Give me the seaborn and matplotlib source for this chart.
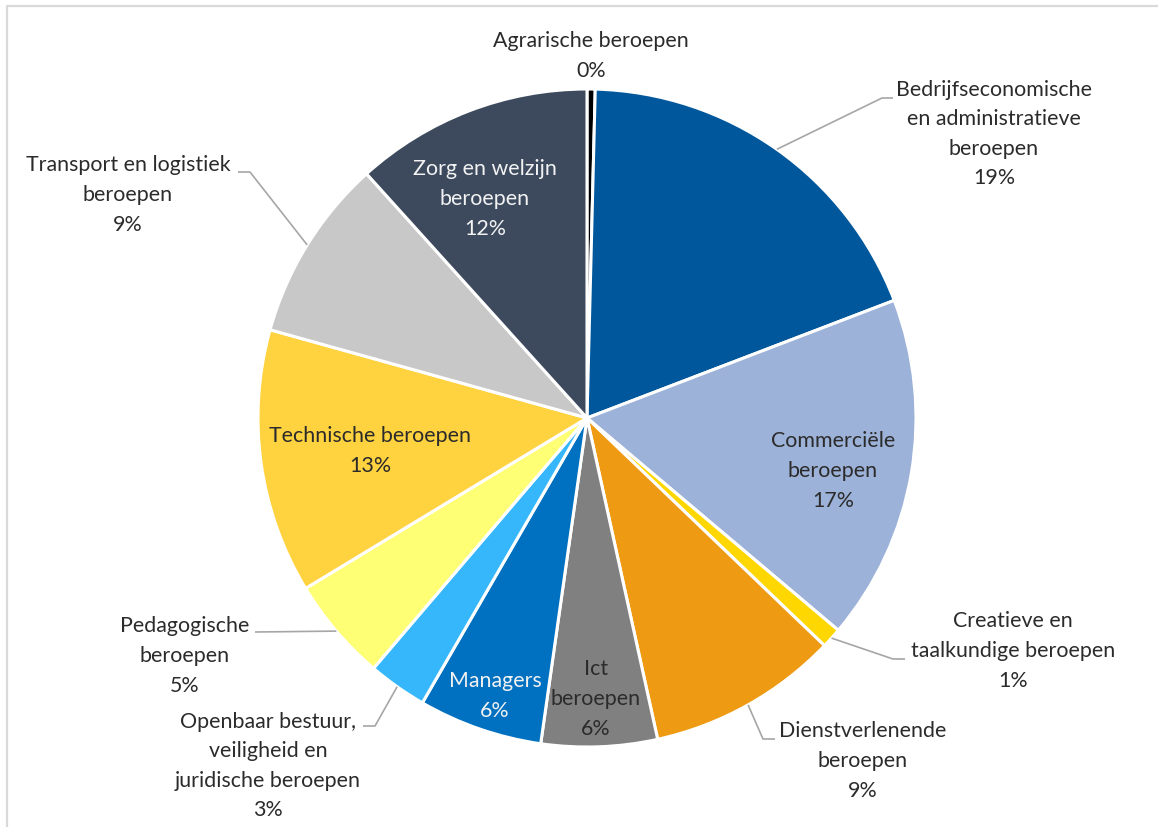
import matplotlib
matplotlib.use("Agg")
import matplotlib.pyplot as plt
import seaborn as sns
import numpy as np

# Share of vacancies per occupational class (percent)
categories = [
    "Agrarische beroepen",
    "Bedrijfseconomische en administratieve beroepen",
    "Commerciële beroepen",
    "Creatieve en taalkundige beroepen",
    "Dienstverlenende beroepen",
    "Ict beroepen",
    "Managers",
    "Openbaar bestuur, veiligheid en juridische beroepen",
    "Pedagogische beroepen",
    "Technische beroepen",
    "Transport en logistiek beroepen",
    "Zorg en welzijn beroepen",
]
shares = [0.4, 18.8, 17.0, 1.0, 9.4, 5.7, 6.1, 2.9, 5.1, 13.0, 9.0, 11.7]

# Label text as it is wrapped on the chart
label_lines = [
    "Agrarische beroepen",
    "Bedrijfseconomische\nen administratieve\nberoepen",
    "Commerciële\nberoepen",
    "Creatieve en\ntaalkundige beroepen",
    "Dienstverlenende\nberoepen",
    "Ict\nberoepen",
    "Managers",
    "Openbaar bestuur,\nveiligheid en\njuridische beroepen",
    "Pedagogische\nberoepen",
    "Technische beroepen",
    "Transport en logistiek\nberoepen",
    "Zorg en welzijn\nberoepen",
]

colors = ["#000000", "#01579B", "#9DB2D8", "#FFD700", "#EE9B13", "#808080",
          "#0070C0", "#36B7FB", "#FFFF75", "#FFD23F", "#C8C8C8", "#3D4A5E"]

# Layout (pixel space of the canvas, y downwards)
CX, CY, R = 587, 418, 329
label_pos = [(591, 56), (994, 134), (833, 471), (1013, 651), (863, 761), (596, 699),
             (495, 696), (268, 766), (185, 656), (370, 451), (128, 195), (485, 199)]
label_color = ["#2B2B2B"] * 12
label_color[6] = "#F2F2F2"
label_color[11] = "#F2F2F2"
# leader line: elbow points after the wedge-edge start point
leaders = {
    1: [(882, 98), (893, 98)],
    3: [(893, 659), (905, 659)],
    4: [(763, 739), (775, 739)],
    7: [(375, 726), (363, 726)],
    8: [(255, 632)],
    10: [(250, 172), (238, 172)],
}

sns.set_theme(style="white")
plt.rcParams["font.family"] = ["Lato", "DejaVu Sans"]

W, H = 1158, 827
fig = plt.figure(figsize=(W / 100, H / 100), dpi=100)
fig.patch.set_facecolor("white")
ax = fig.add_axes([0, 0, 1, 1])

wedges, _ = ax.pie(
    shares, colors=colors, center=(CX, CY), radius=R,
    startangle=-90, counterclock=True,
    wedgeprops=dict(edgecolor="white", linewidth=2.2),
)
ax.set_xlim(0, W)
ax.set_ylim(H, 0)
ax.set_aspect("auto")
ax.axis("off")

total = sum(shares)
cum = 0.0
for i, (txt, v) in enumerate(zip(label_lines, shares)):
    mid = (cum + v / 2) / total * 2 * np.pi
    cum += v
    pct = f"{round(v / total * 100):.0f}%"
    x, y = label_pos[i]
    ax.text(x, y, f"{txt}\n{pct}", ha="center", va="center", fontsize=15.4,
            fontweight="normal", color=label_color[i], linespacing=1.6,
            zorder=5)
    if i in leaders:
        sx, sy = CX + R * np.sin(mid), CY - R * np.cos(mid)
        pts = [(sx, sy)] + leaders[i]
        ax.plot([p[0] for p in pts], [p[1] for p in pts], color="#A6A6A6",
                lw=1.2, solid_capstyle="butt", zorder=1)

# light chart frame
ax.plot([7, 7, W + 5], [H + 5, 6, 6], color="#D9D9D9", lw=1.6, zorder=0)

fig.savefig("out.png", dpi=100, facecolor="white")
